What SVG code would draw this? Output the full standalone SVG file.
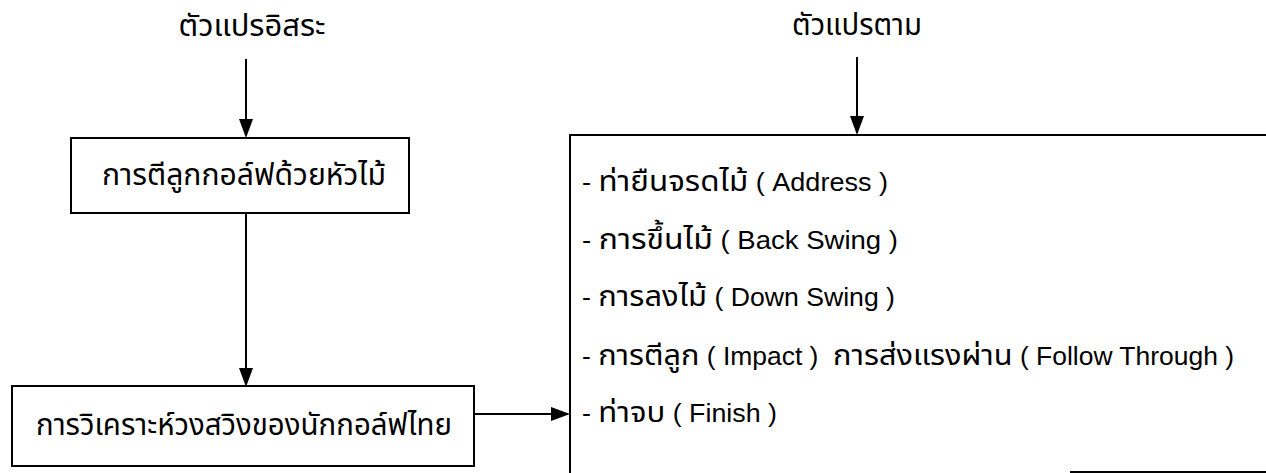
<svg xmlns="http://www.w3.org/2000/svg" width="1266" height="473" viewBox="0 0 1266 473">
<style>
.box{fill:#fff;stroke:#000;stroke-width:2}
.ln{fill:none;stroke:#000;stroke-width:2}
.t{font-family:"Noto Sans Thai","Liberation Sans",sans-serif;font-size:31px;fill:#000}
.it{font-family:"Noto Sans Thai","Liberation Sans",sans-serif;font-size:29px;fill:#000}
.en{font-family:"Liberation Sans",Arial,sans-serif;font-size:25px}
</style>
<rect width="1266" height="473" fill="#fff"/>
<g id="connectors">
<line class="ln" x1="246" y1="59" x2="246" y2="120"/>
<path d="M239,119 L253,119 L246,138 Z" fill="#000"/>
<line class="ln" x1="246" y1="213" x2="246" y2="369"/>
<path d="M239,368 L253,368 L246,387 Z" fill="#000"/>
<line class="ln" x1="857" y1="57" x2="857" y2="117"/>
<path d="M850,116 L864,116 L857,135 Z" fill="#000"/>
<line class="ln" x1="475" y1="414" x2="552" y2="414"/>
<path d="M551,407 L551,421 L570,414 Z" fill="#000"/>
</g>
<g id="title-independent">
<text class="t" x="252" y="36" text-anchor="middle" textLength="147" lengthAdjust="spacingAndGlyphs">ตัวแปรอิสระ</text>
</g>
<g id="title-dependent">
<text class="t" x="857" y="35" text-anchor="middle" textLength="130" lengthAdjust="spacingAndGlyphs">ตัวแปรตาม</text>
</g>
<g id="node-hit">
<rect class="box" x="71" y="138" width="338" height="75"/>
<text class="t" x="244" y="185" text-anchor="middle" textLength="284" lengthAdjust="spacingAndGlyphs">การตีลูกกอล์ฟด้วยหัวไม้</text>
</g>
<g id="node-analysis">
<rect class="box" x="12" y="386" width="462" height="80"/>
<text class="t" x="244" y="435" text-anchor="middle" textLength="416" lengthAdjust="spacingAndGlyphs">การวิเคราะห์วงสวิงของนักกอล์ฟไทย</text>
</g>
<g id="node-phases">
<path class="ln" d="M570,473 L570,135 L1266,135"/>
<line class="ln" x1="1070" y1="472" x2="1266" y2="472"/>
<text class="it" x="582" y="191" textLength="306" lengthAdjust="spacingAndGlyphs"><tspan class="en">- </tspan>ท่ายืนจรดไม้<tspan class="en"> ( Address )</tspan></text>
<text class="it" x="582" y="249" textLength="316" lengthAdjust="spacingAndGlyphs"><tspan class="en">- </tspan>การขึ้นไม้<tspan class="en"> ( Back Swing )</tspan></text>
<text class="it" x="582" y="306" textLength="313" lengthAdjust="spacingAndGlyphs"><tspan class="en">- </tspan>การลงไม้<tspan class="en"> ( Down Swing )</tspan></text>
<text class="it" x="582" y="365" textLength="652" lengthAdjust="spacingAndGlyphs"><tspan class="en">- </tspan>การตีลูก<tspan class="en"> ( Impact ) &#160;</tspan>การส่งแรงผ่าน<tspan class="en"> ( Follow Through )</tspan></text>
<text class="it" x="582" y="422" textLength="195" lengthAdjust="spacingAndGlyphs"><tspan class="en">- </tspan>ท่าจบ<tspan class="en"> ( Finish )</tspan></text>
</g>
</svg>
